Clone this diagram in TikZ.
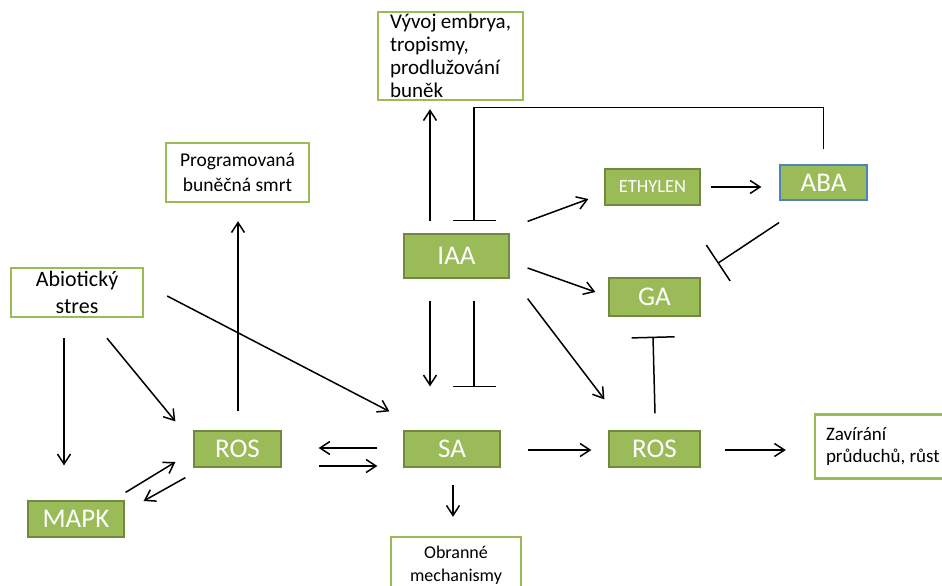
\documentclass[tikz,border=0pt]{standalone}
\usepackage{fontspec}
\setmainfont{Carlito}
\usetikzlibrary{calc,arrows.meta}
\definecolor{leaf}{HTML}{9BBB59}
\definecolor{leafdark}{HTML}{71893F}
\definecolor{abaedge}{HTML}{4F81BD}
\tikzset{
  hormone/.style={draw=leafdark, fill=leaf, line width=1.2pt, text=white,
                  font=\fontsize{27}{30}\selectfont, inner sep=0pt},
  % plain outcome box: white with green border
  note/.style   ={draw=leaf, fill=white, line width=2.4pt, inner sep=0pt,
                  font=\fontsize{18.5}{24}\selectfont},
  act/.style    ={-{Straight Barb[length=10pt,width=13pt,line width=1.5pt]}, line width=1.5pt},
  inh/.style    ={-{Bar[width=43pt,line width=1.5pt]}, line width=1.5pt},
}

\begin{document}
\begin{tikzpicture}[x=1pt,y=-1pt]
    \useasboundingbox (0,0) rectangle (942,586);
    \clip (0,0) rectangle (942,586);
    % outcome boxes
    \node[note, text width=121pt, inner xsep=12pt, minimum height=88pt, align=flush left,
          font=\fontsize{21}{23}\selectfont] (vyvoj) at (450.5,56)
          {Vývoj embrya,\\tropismy,\\prodlužování\\buněk};
    \node[note, minimum width=143pt, minimum height=59pt, align=center,
          font=\fontsize{19.5}{25.5}\selectfont] (smrt) at (237.5,172.5) {Programovaná\\buněčná smrt};
    \node[note, minimum width=132pt, minimum height=49pt, align=center,
          font=\fontsize{22}{26.5}\selectfont] (abio) at (77,292.5) {Abiotický\\stres};
    \node[note, minimum width=130pt, minimum height=56pt, align=center,
          font=\fontsize{18}{23.5}\selectfont] (obr) at (456,565) {Obranné\\mechanismy};
    \node[note, text width=120pt, inner xsep=11pt, minimum height=64pt, align=flush left,
          font=\fontsize{19}{22}\selectfont] (zav) at (886,446.5) {Zavírání\\průduchů, růst};
    % hormones and signals
    \node[hormone, minimum width=105pt, minimum height=44pt] (IAA) at (456.5,256) {IAA};
    \node[hormone, minimum width=95pt, minimum height=36pt,
          font=\fontsize{18.5}{20}\selectfont] (eth) at (652.5,187) {ETHYLEN};
    \node[hormone, draw=abaedge, minimum width=87pt, minimum height=35pt] (ABA) at (823.5,182.5) {ABA};
    \node[hormone, minimum width=91pt, minimum height=38pt] (GA) at (654.5,297) {GA};
    \node[hormone, minimum width=87pt, minimum height=36pt] (rosL) at (237.5,449) {ROS};
    \node[hormone, minimum width=96pt, minimum height=36pt] (SA) at (452,449) {SA};
    \node[hormone, minimum width=91pt, minimum height=36pt] (rosR) at (654.5,449) {ROS};
    \node[hormone, minimum width=96pt, minimum height=36pt] (MAPK) at (76,519) {MAPK};
    % IAA links
    \draw[act] ($(IAA.north)+(-26.5,-12)$) -- ($(vyvoj.south)+(-20.5,8)$);
    \draw[inh] ($(ABA.north)+(0,-15)$) -- ++(0,-42) -| ($(IAA.north)+(17.5,-12)$);
    \draw[act] ($(IAA.north east)+(18,-12)$) -- ($(eth.west)+(-16,12)$);
    \draw[act] ($(IAA.east)+(18,12)$) -- ($(GA.west)+(-13,-5)$);
    \draw[act] ($(IAA.south east)+(18,20)$) -- ($(rosR.north west)+(-4,-31)$);
    \draw[act] ($(IAA.south)+(-26.5,22)$) -- ($(SA.north)+(-22,-44)$);
    \draw[inh] ($(IAA.south)+(17.5,22)$) -- ($(SA.north)+(22,-43)$);
    % ethylen, ABA, GA
    \draw[act] ($(eth.east)+(10,0)$) -- ($(ABA.west)+(-18,4.5)$);
    \draw[inh] ($(ABA.south)+(-44.5,22)$) -- ($(GA.north east)+(17,-14)$);
    \draw[inh] ($(rosR.north)+(0.5,-17)$) -- ($(GA.south)+(-1.5,20)$);
    % SA and ROS row
    \draw[act] ($(rosR.east)+(24,1)$) -- ($(zav.west)+(-28,3.5)$);
    \draw[act] ($(SA.east)+(27,1)$) -- ($(rosR.west)+(-17,1)$);
    \draw[act] ($(SA.south)+(1,17)$) -- ($(obr.north)+(-3,-19)$);
    \draw[act] ($(SA.west)+(-26,-1)$) -- ($(rosL.east)+(37,-1)$);
    \draw[act] ($(rosL.east)+(37,17)$) -- ($(SA.west)+(-26,17)$);
    \draw[act] ($(rosL.north)+(0.5,-19)$) -- ($(smrt.south)+(0.5,18)$);
    % abiotic stress
    \draw[act] ($(abio.east)+(23,3.5)$) -- ($(SA.north west)+(-14,-19)$);
    \draw[act] ($(abio.south)+(30,20)$) -- ($(rosL.north west)+(-18,-9)$);
    \draw[act] ($(abio.south)+(-13,20)$) -- ($(MAPK.north)+(-12,-35)$);
    \draw[act] ($(MAPK.north east)+(1,-8)$) -- ($(rosL.west)+(-18,13)$);
    \draw[act] ($(rosL.south west)+(-8,10)$) -- ($(MAPK.east)+(19,-18)$);
  \end{tikzpicture}
\end{document}
